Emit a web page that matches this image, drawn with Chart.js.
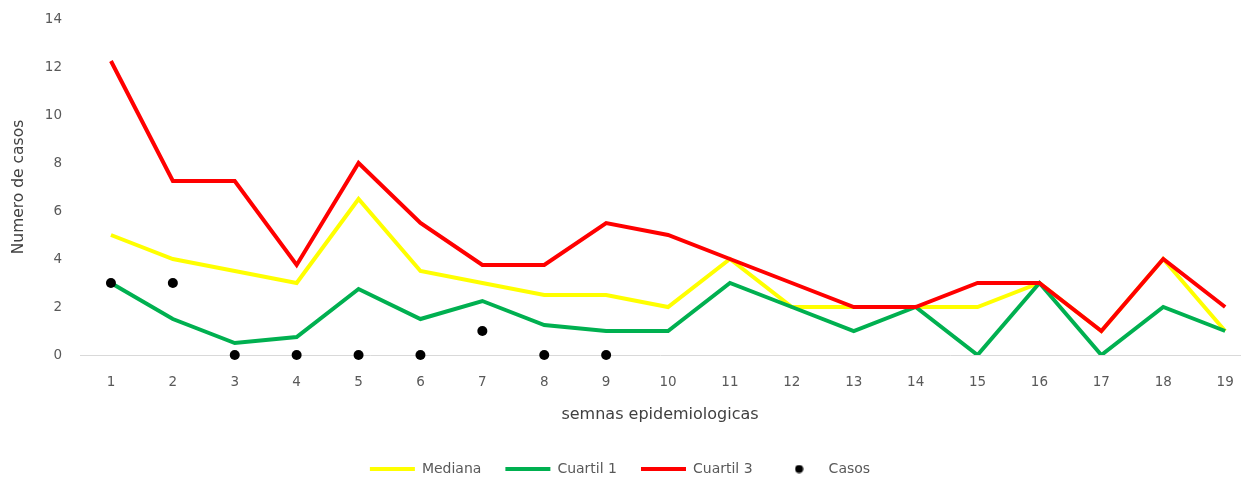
<!DOCTYPE html>
<html>
<head>
<meta charset="utf-8">
<script src="https://cdn.jsdelivr.net/npm/chart.js@4"></script>
<style>
  html, body { margin: 0; padding: 0; background: #fff; }
  #wrap { width: 1245px; height: 478px; }
</style>
</head>
<body>
<div id="wrap"><canvas id="casosChart"></canvas></div>
<script>
// semanas epidemiologicas
var weeks = [1, 2, 3, 4, 5, 6, 7, 8, 9, 10, 11, 12, 13, 14, 15, 16, 17, 18, 19];
var mediana = [5, 4, 3.5, 3, 6.5, 3.5, 3, 2.5, 2.5, 2, 4, 2, 2, 2, 2, 3, 1, 4, 1];
var cuartil1 = [3, 1.5, 0.5, 0.75, 2.75, 1.5, 2.25, 1.25, 1, 1, 3, 2, 1, 2, 0, 3, 0, 2, 1];
var cuartil3 = [12.25, 7.25, 7.25, 3.75, 8, 5.5, 3.75, 3.75, 5.5, 5, 4, 3, 2, 2, 3, 3, 1, 4, 2];
var casos = [3, 3, 0, 0, 0, 0, 1, 0, 0];
var yTicks = [0, 2, 4, 6, 8, 10, 12, 14];

var fontFam = "'DejaVu Sans', sans-serif";

//black dot used as the legend marker of Casos
var dot = document.createElement('canvas');
dot.width = 9; dot.height = 9;
(function(){
	var c = dot.getContext('2d');
	c.fillStyle = '#000';
	c.beginPath(); c.arc(4.5, 4.5, 4, 0, Math.PI * 2); c.fill();
})();

function toPoints(arr){
	return arr.map(function (v, i) { return {x: weeks[i], y: v}; });
}

function lineSet(label, arr, color, order){
	return {
		label: label,
		data: toPoints(arr),
		order: order,
		borderColor: color,
		backgroundColor: color,
		borderWidth: 4,
		pointRadius: 0,
		pointHoverRadius: 0,
		pointStyle: 'line',
		fill: false,
		tension: 0
	};
}

new Chart("casosChart", {
	type: 'line',
	data: {
		datasets: [
			lineSet('Mediana', mediana, '#FFFF00', 4),
			lineSet('Cuartil 1', cuartil1, '#00B050', 3),
			lineSet('Cuartil 3', cuartil3, '#FF0000', 2),
			{
				label: 'Casos',
				data: toPoints(casos),
				order: 1,
				showLine: false,
				clip: false,
				borderColor: '#000',
				backgroundColor: '#000',
				pointStyle: 'circle',
				pointRadius: 5,
				pointBorderWidth: 0
			}
		]
	},
	options: {
		responsive: true,
		maintainAspectRatio: false,
		animation: false,
		layout: { padding: { top: 19, right: 5, bottom: -8, left: 0 } },
		plugins: {
			tooltip: { enabled: false },
			legend: {
				position: 'bottom',
				labels: {
					usePointStyle: true,
					pointStyleWidth: 45,
					boxHeight: 7,
					padding: 24,
					color: '#595959',
					font: { family: fontFam, size: 14 },
					sort: function (a, b) { return a.datasetIndex - b.datasetIndex; },
					generateLabels: function (chart) {
						var items = Chart.defaults.plugins.legend.labels.generateLabels(chart);
						items.forEach(function (it) {
							if (it.text == 'Casos') { it.pointStyle = dot; }
						});
						return items;
					}
				}
			}
		},
		scales: {
			x: {
				type: 'linear',
				min: 0.5,
				max: 19.24,
				afterBuildTicks: function (scale) {
					scale.ticks = weeks.map(function (w) { return {value: w}; });
				},
				afterFit: function (scale) {
					scale.height = 83;
					scale.paddingLeft = 0; scale.paddingRight = 0;
				},
				grid: { display: false, drawTicks: false },
				border: { display: true, color: '#d9d9d9', width: 1 },
				ticks: {
					padding: 19,
					color: '#595959',
					font: { family: fontFam, size: 13.5 },
					callback: function (v) { return v; }
				},
				title: {
					display: true,
					text: 'semnas epidemiologicas',
					color: '#404040',
					font: { family: fontFam, size: 16 },
					padding: { top: 4, bottom: 14 }
				}
			},
			y: {
				min: 0,
				max: 14,
				afterBuildTicks: function (scale) {
					scale.ticks = yTicks.map(function (v) { return {value: v}; });
				},
				afterFit: function (scale) {
					scale.width = 80;
					scale.paddingTop = 0; scale.paddingBottom = 0;
				},
				grid: { display: false, drawTicks: false },
				border: { display: false },
				ticks: {
					padding: 18,
					color: '#595959',
					font: { family: fontFam, size: 13.5 }
				},
				title: {
					display: true,
					text: 'Numero de casos',
					color: '#404040',
					font: { family: fontFam, size: 15.5 },
					padding: { top: 10, bottom: 0 }
				}
			}
		}
	}
});
</script>
</body>
</html>
